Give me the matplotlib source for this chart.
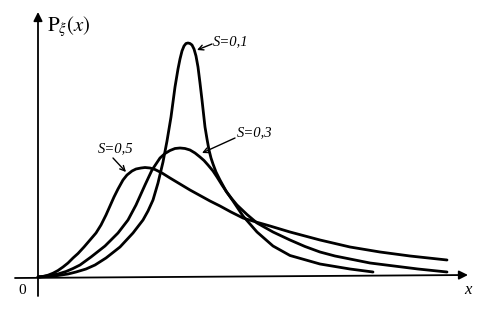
import matplotlib
matplotlib.use("Agg")
import matplotlib.pyplot as plt

# curves (x to the right of the y axis, y above the x axis)
s01_x = [0, 10, 20, 30, 38, 48, 57, 68, 82, 95, 105, 110, 115, 120, 125, 129,
         133, 137, 140, 142, 144, 146, 148, 150, 152, 154, 156, 158, 160, 162,
         164, 167, 169, 171, 173, 175, 178, 182, 188, 195, 205, 219, 235, 252,
         282, 312, 335]
s01_y = [0, 0.5, 1.5, 3, 5, 8, 12, 19, 30, 44, 57, 66, 77, 94, 115, 136,
         160, 190, 208, 218, 226, 231, 233.5, 234, 233.5, 232, 228, 221, 210, 194,
         177, 150, 138, 127, 119, 113, 105, 97, 86, 76, 61, 45, 31, 21.5,
         13, 8, 5]

s03_x = [0, 6, 12, 20, 28, 35, 42, 53, 67, 80, 90, 98, 107, 114, 122, 127,
         132, 137, 142, 147, 152, 157, 162, 166, 170, 175, 179, 184, 189, 194,
         199, 209, 219, 235, 252, 267, 282, 297, 312, 332, 352, 380, 409]
s03_y = [0, 0.6, 1.5, 3, 5.5, 8.5, 12, 20, 31, 44, 57, 72, 92, 107, 119, 123.5,
         126.5, 128.5, 129, 128.5, 127, 124, 120, 116.5, 112, 106, 100, 92, 84.5, 78,
         72, 62.5, 54, 45, 37, 30.5, 25, 21, 18, 14, 11.5, 8, 5]

s05_x = [0, 5, 10, 15, 20, 25, 30, 35, 40, 46, 52, 58, 63, 68, 72, 76,
         80, 85, 89, 94, 98, 103, 107, 112, 117, 124, 132, 142, 152, 162,
         172, 182, 193, 205, 218, 232, 252, 282, 312, 342, 372, 409]
s05_y = [0, 0.6, 1.8, 3.8, 6.5, 10, 14, 19, 23.5, 30, 37, 44, 52, 62, 71, 80,
         88, 97, 102, 106, 108, 109, 109.5, 109, 107.5, 104, 99, 93, 87, 81.5,
         76, 71, 65, 59, 55, 51, 45, 37, 30, 25, 21, 17]

labels = ["S=0,1", "S=0,3", "S=0,5"]
label_pos = [(175, 235), (199, 144), (60, 128)]
arrow_tail = [(174, 233), (197, 139), (75, 119)]
arrow_head = [(159, 227), (164, 124), (88, 105)]

plt.rcParams['mathtext.fontset'] = 'stix'
serif = ['Liberation Serif', 'DejaVu Serif']

fig = plt.figure(figsize=(4.78, 3.21), dpi=100)
ax = fig.add_axes([0, 0, 1, 1])
ax.set_xlim(-38, 440)
ax.set_ylim(-44, 277)
ax.axis('off')

for xs, ys in [(s01_x, s01_y), (s03_x, s03_y), (s05_x, s05_y)]:
    ax.plot(xs, ys, color='black', lw=2.0, solid_joinstyle='round',
            solid_capstyle='round')

# axes with arrows
ax.annotate('', xy=(0, 265), xytext=(0, -19),
            arrowprops=dict(arrowstyle='-|>', lw=1.3, color='black',
                            mutation_scale=13, shrinkA=0, shrinkB=0))
ax.annotate('', xy=(430, 2), xytext=(-23, -1),
            arrowprops=dict(arrowstyle='-|>', lw=1.3, color='black',
                            mutation_scale=13, shrinkA=0, shrinkB=0))

ax.text(-16, -14, '0', fontsize=11, family=serif, ha='center', va='center')
ax.text(430, -13, 'x', fontsize=12, family=serif, style='italic',
        ha='center', va='center')
ax.text(9, 250, r'$\mathrm{P}_{\xi}\left(x\right)$', fontsize=15,
        ha='left', va='center')

for lab, pos, tail, head in zip(labels, label_pos, arrow_tail, arrow_head):
    ax.text(pos[0], pos[1], lab, fontsize=10.5, family=serif, style='italic',
            ha='left', va='center')
    ax.annotate('', xy=head, xytext=tail,
                arrowprops=dict(arrowstyle='->', lw=1.0, color='black',
                                mutation_scale=9, shrinkA=0, shrinkB=0))

fig.savefig('out.png', dpi=100)
